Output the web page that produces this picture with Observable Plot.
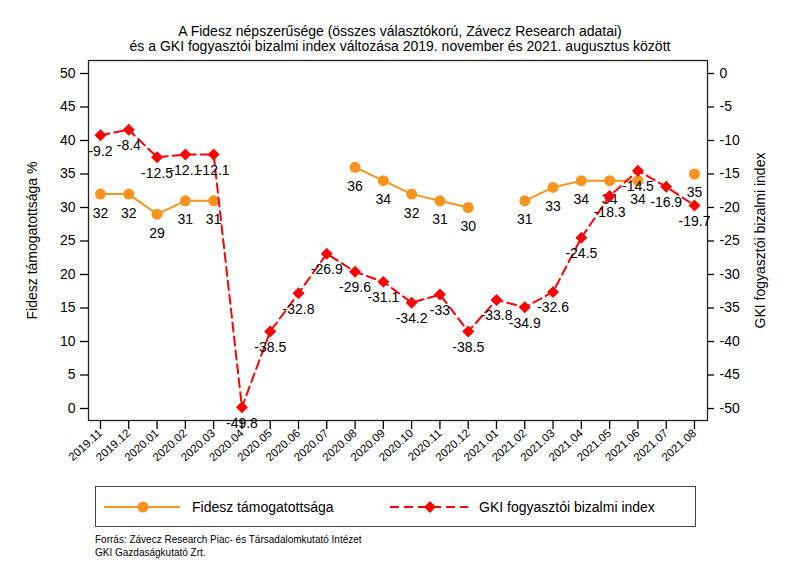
<!DOCTYPE html>
<html>
<head>
<meta charset="utf-8">
<script src="https://cdn.jsdelivr.net/npm/d3@7"></script>
<script src="https://cdn.jsdelivr.net/npm/@observablehq/plot@0.6"></script>
<style>
  html, body { margin: 0; padding: 0; background: #fff; }
  body { width: 800px; height: 581px; position: relative; overflow: hidden; font-family: "Liberation Sans", Arial, Helvetica, sans-serif; color: #000; }
  #title { position: absolute; left: 0; top: 24px; width: 800px; text-align: center; font-size: 14px; line-height: 15px; }
  #chart { position: absolute; left: 0; top: 56px; }
  #legend { position: absolute; left: 95px; top: 486px; width: 601px; height: 41px; border: 1px solid #444; box-sizing: border-box; }
  #legend svg { position: absolute; left: 0; top: 0; }
  #caption { position: absolute; left: 95px; top: 533px; font-size: 10px; line-height: 13px; }
</style>
</head>
<body>
<div id="title">A Fidesz népszerűsége (összes választókorú, Závecz Research adatai)<br>és a GKI fogyasztói bizalmi index változása 2019. november és 2021. augusztus között</div>
<div id="chart"></div>
<div id="legend"></div>
<div id="caption">Forrás: Závecz Research Piac- és Társadalomkutató Intézet<br>GKI Gazdaságkutató Zrt.</div>
<script>
const months = ["2019.11","2019.12","2020.01","2020.02","2020.03","2020.04","2020.05","2020.06","2020.07","2020.08","2020.09","2020.10","2020.11","2020.12","2021.01","2021.02","2021.03","2021.04","2021.05","2021.06","2021.07","2021.08"];
const fidesz = [32,32,29,31,31,null,null,null,null,36,34,32,31,30,null,31,33,34,34,34,null,35];
const gki = [-9.2,-8.4,-12.5,-12.1,-12.1,-49.8,-38.5,-32.8,-26.9,-29.6,-31.1,-34.2,-33,-38.5,-33.8,-34.9,-32.6,-24.5,-18.3,-14.5,-16.9,-19.7];
const leftTicks = [0,5,10,15,20,25,30,35,40,45,50];
const seriesNames = ["Fidesz támogatottsága","GKI fogyasztói bizalmi index"];
const axisTitles = ["Fidesz támogatottsága %","GKI fogyasztói bizalmi index"];

const orange = "#f7931e";
const red = "#ff0000";

const rows = months.map((m, i) => ({i, m, f: fidesz[i], g: gki[i]}));
const frows = rows.filter(d => d.f != null);
// right axis (GKI) shares the pixel range: GKI 0 ↔ left 50, GKI -50 ↔ left 0
const gy = d => 50 + d.g;

const chart = Plot.plot({
  width: 800,
  height: 420,
  marginLeft: 88,
  marginRight: 93,
  marginTop: 4,
  marginBottom: 56,
  style: {fontFamily: '"Liberation Sans", Arial, Helvetica, sans-serif', background: "#fff", color: "#000"},
  x: {type: "linear", domain: [-0.424, 21.46]},
  y: {domain: [-1.791, 51.94]},
  marks: [
    Plot.frame({stroke: "#222", strokeWidth: 1.3}),
    Plot.axisY({ticks: leftTicks, tickSize: 8, tickPadding: 5, fontSize: 14, label: null, strokeWidth: 1.3}),
    Plot.axisY({anchor: "right", ticks: leftTicks, tickFormat: d => String(d - 50), tickSize: 6, tickPadding: 6, fontSize: 14, label: null, strokeWidth: 1.3}),
    Plot.axisX({ticks: d3.range(months.length), tickFormat: i => months[i], tickRotate: -42, tickSize: 9, tickPadding: 2, fontSize: 11.5, label: null, strokeWidth: 1.3}),
    Plot.text([axisTitles[0]], {frameAnchor: "left", dx: -56, rotate: -90, textAnchor: "middle", text: d => d, fontSize: 14}),
    Plot.text([axisTitles[1]], {frameAnchor: "right", dx: 53, rotate: -90, textAnchor: "middle", text: d => d, fontSize: 14}),
    Plot.line(rows, {x: "i", y: "f", stroke: orange, strokeWidth: 2}),
    Plot.dot(frows, {x: "i", y: "f", r: 5.5, fill: orange, stroke: "none"}),
    Plot.text(frows, {x: "i", y: "f", text: d => String(d.f), dy: 19, fontSize: 14}),
    Plot.line(rows, {x: "i", y: gy, stroke: red, strokeWidth: 2, strokeDasharray: "9,5"}),
    Plot.dot(rows, {x: "i", y: gy, symbol: "diamond2", r: 5.4, fill: red, stroke: "none"}),
    Plot.text(rows, {x: "i", y: gy, text: d => String(d.g), dy: 16, fontSize: 14})
  ]
});
document.getElementById("chart").appendChild(chart);

// legend
const lg = d3.select("#legend").append("svg").attr("width", 601).attr("height", 41);
lg.append("line").attr("x1", 8).attr("x2", 84).attr("y1", 20).attr("y2", 20).attr("stroke", orange).attr("stroke-width", 2);
lg.append("circle").attr("cx", 47).attr("cy", 20).attr("r", 5.5).attr("fill", orange);
lg.append("text").attr("x", 96).attr("y", 25).attr("font-size", 14).text(seriesNames[0]);
lg.append("line").attr("x1", 294).attr("x2", 372).attr("y1", 20).attr("y2", 20).attr("stroke", red).attr("stroke-width", 2).attr("stroke-dasharray", "9,5");
lg.append("path").attr("d", d3.symbol(d3.symbolDiamond2, Math.PI * 5.4 * 5.4)()).attr("transform", "translate(334,20)").attr("fill", red);
lg.append("text").attr("x", 383).attr("y", 25).attr("font-size", 14).text(seriesNames[1]);
</script>
</body>
</html>
